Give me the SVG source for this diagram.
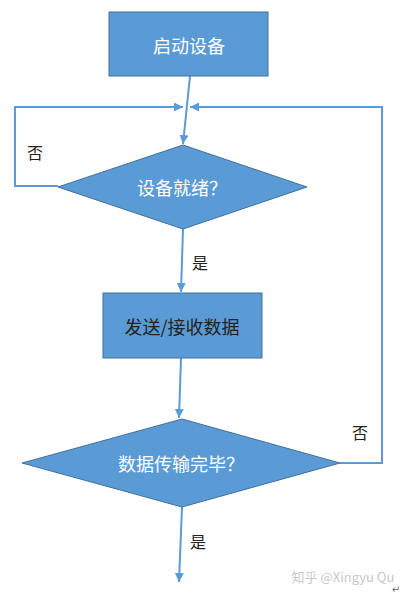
<svg xmlns="http://www.w3.org/2000/svg" width="408" height="595" viewBox="0 0 408 595">
<defs>
<marker id="arr" viewBox="0 0 10 10" refX="10" refY="5" markerWidth="9" markerHeight="9" markerUnits="userSpaceOnUse" orient="auto">
<path d="M0,0 L10,5 L0,10 z" fill="#5b9bd5"/>
</marker>
<style>
.shape{fill:#5b9bd5;stroke:#41719c;stroke-width:1}
.conn{fill:none;stroke:#5b9bd5;stroke-width:2}
.wt{font-family:"Noto Sans CJK SC","Liberation Sans",sans-serif;font-size:18px;fill:#ffffff;text-anchor:middle;dominant-baseline:central}
.dk{font-family:"Noto Sans CJK SC","Liberation Sans",sans-serif;font-size:18px;fill:#222222;text-anchor:middle;dominant-baseline:central}
.lbl{font-family:"Noto Sans CJK SC","Liberation Sans",sans-serif;font-size:16px;fill:#222222;text-anchor:middle;dominant-baseline:central}
</style>
</defs>
<rect width="408" height="595" fill="#ffffff"/>
<g id="connectors">
<path class="conn" d="M190,76 L183,144" marker-end="url(#arr)"/>
<path class="conn" d="M58,186 L15,186 L15,107 L183,107" marker-end="url(#arr)"/>
<path class="conn" d="M340,463 L382,463 L382,107 L190,107" marker-end="url(#arr)"/>
<path class="conn" d="M183,229 L181,292" marker-end="url(#arr)"/>
<path class="conn" d="M181,358 L179,418" marker-end="url(#arr)"/>
<path class="conn" d="M182,507 L179,582" marker-end="url(#arr)"/>
</g>
<g id="start">
<rect class="shape" x="109" y="12" width="159" height="64"/>
<text class="wt" x="189" y="45">启动设备</text>
</g>
<g id="ready">
<polygon class="shape" points="183,145 307,187 183,229 58,187"/>
<text class="wt" x="182" y="187">设备就绪？</text>
</g>
<g id="transfer">
<rect class="shape" x="103" y="293" width="159" height="65"/>
<text class="dk" x="182" y="326">发送/接收数据</text>
</g>
<g id="done">
<polygon class="shape" points="182,419 340,463 182,507 22,463"/>
<text class="wt" x="181" y="463">数据传输完毕？</text>
</g>
<g id="labels">
<text class="lbl" x="35" y="152">否</text>
<text class="lbl" x="200" y="262">是</text>
<text class="lbl" x="360" y="432">否</text>
<text class="lbl" x="198" y="541">是</text>
</g>
<text x="343" y="576" font-family="Noto Sans CJK SC,Liberation Sans,sans-serif" font-size="13" fill="#c8c8c8" text-anchor="middle" dominant-baseline="central">知乎 @Xingyu Qu</text>
<text x="396" y="589" font-family="DejaVu Sans,sans-serif" font-size="10" fill="#666666" text-anchor="middle" dominant-baseline="central">↵</text>
</svg>
